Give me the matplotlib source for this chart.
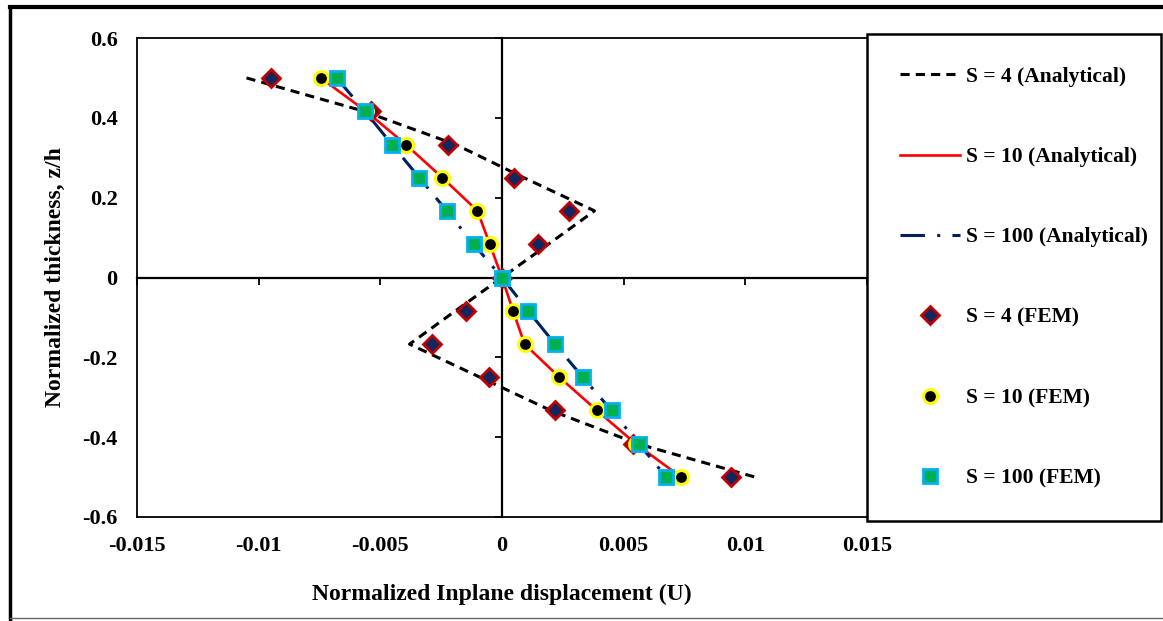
import matplotlib
matplotlib.use("Agg")
import matplotlib.pyplot as plt
from matplotlib.lines import Line2D

# normalized thickness positions
z = [0.5, 0.417, 0.333, 0.25, 0.167, 0.083, 0.0, -0.083, -0.167, -0.25, -0.333, -0.417, -0.5]

# analytical curves
u_s4_an = [-0.0105, -0.0057, -0.0019, 0.0009, 0.0038, 0.0019, 0.0, -0.0019, -0.0038, -0.0009, 0.0020, 0.0056, 0.0104]
u_s10_an = [-0.00745, -0.0056, -0.00395, -0.00245, -0.00101, -0.0005, 0.0, 0.00045, 0.00093, 0.00236, 0.0039, 0.0055, 0.00736]
u_s100_an = [-0.0068, -0.00564, -0.00452, -0.0034, -0.00227, -0.00116, 0.0, 0.00107, 0.00218, 0.00332, 0.0045, 0.00563, 0.00675]

# FEM results
u_s4_fem = [-0.0095, -0.0054, -0.00223, 0.00049, 0.00277, 0.00148, 0.0, -0.0015, -0.00286, -0.00053, 0.00218, 0.0054, 0.0094]
u_s10_fem = [-0.00745, -0.0056, -0.00395, -0.00245, -0.00101, -0.0005, 0.0, 0.00045, 0.00093, 0.00236, 0.0039, 0.0055, 0.00736]
u_s100_fem = [-0.00677, -0.00564, -0.00452, -0.0034, -0.00227, -0.00116, 0.0, 0.00107, 0.00218, 0.00332, 0.0045, 0.00563, 0.00675]

xticks = [-0.015, -0.01, -0.005, 0, 0.005, 0.01, 0.015]
xticklabels = ["-0.015", "-0.01", "-0.005", "0", "0.005", "0.01", "0.015"]
yticks = [0.6, 0.4, 0.2, 0, -0.2, -0.4, -0.6]
yticklabels = ["0.6", "0.4", "0.2", "0", "-0.2", "-0.4", "-0.6"]

plt.rcParams['font.family'] = ['Liberation Serif', 'DejaVu Serif']
plt.rcParams['font.weight'] = 'bold'

W, H = 1163, 621
fig = plt.figure(figsize=(W / 100, H / 100), dpi=100)
ax = fig.add_axes([137 / W, 1 - 517 / H, (867 - 137) / W, (517 - 38) / H])

navy = '#12275f'
ax.plot(u_s4_an, z, color='black', lw=2.2, dashes=(3, 2), label='S = 4 (Analytical)', zorder=3)
ax.plot(u_s10_an, z, color='#ff0000', lw=1.9, label='S = 10 (Analytical)', zorder=3)
ax.plot(u_s100_an, z, color='#002060', lw=2.2, dashes=(8, 4, 1, 4), label='S = 100 (Analytical)', zorder=3)
ax.plot(u_s4_fem, z, ls='none', marker='D', ms=9.5, mfc=navy, mec='#c00000', mew=2,
        label='S = 4 (FEM)', zorder=4)
ax.plot(u_s10_fem, z, ls='none', marker='o', ms=10, mfc='black', mec='#ffff00', mew=2.2,
        label='S = 10 (FEM)', zorder=5)
ax.plot(u_s100_fem, z, ls='none', marker='s', ms=10, mfc='#00b050', mec='#00b0f0', mew=2,
        label='S = 100 (FEM)', zorder=6)

ax.set_xlim(-0.015, 0.015)
ax.set_ylim(-0.6, 0.6)
ax.set_xticks(xticks)
ax.set_xticklabels(xticklabels)
ax.set_yticks(yticks)
ax.set_yticklabels(yticklabels)
ax.tick_params(length=0, labelsize=16, pad=14)
for s in ['left', 'bottom', 'top']:
    ax.spines[s].set_linewidth(1.3)
ax.spines['right'].set_visible(False)

# axes crossing at zero with tick marks
secx = ax.secondary_xaxis(0.5)
secx.set_alignment('bottom')
secx.set_xticks(xticks)
secx.tick_params(direction='out', length=5, width=1.3, labelbottom=False, labeltop=False)
secx.spines['bottom'].set_linewidth(1.6)
secy = ax.secondary_yaxis(0.5)
secy.set_alignment('left')
secy.set_yticks(yticks)
secy.tick_params(direction='out', length=5, width=1.3, labelleft=False, labelright=False)
secy.spines['left'].set_linewidth(1.6)

ax.set_xlabel('Normalized Inplane displacement (U)', fontsize=17, fontweight='bold', labelpad=20)
ax.set_ylabel('Normalized thickness, z/h', fontsize=17, fontweight='bold', labelpad=12)

leg = ax.legend(loc='upper left',
                bbox_to_anchor=(867 / W, 1 - 521 / H, (1161 - 867) / W, (521 - 34) / H),
                bbox_transform=fig.transFigure, mode='expand', borderaxespad=0,
                fancybox=False, framealpha=1, edgecolor='black', numpoints=1,
                prop={'size': 15.5, 'weight': 'bold'}, labelspacing=2.80,
                borderpad=1.52, handlelength=2.8, handletextpad=0.3)
leg.get_frame().set_linewidth(1.8)

# outer border of the picture
fig.add_artist(Line2D([10 / W, 10 / W], [0, 1 - 7 / H], transform=fig.transFigure, color='black', lw=2.5))
fig.add_artist(Line2D([10 / W, 1], [1 - 7 / H, 1 - 7 / H], transform=fig.transFigure, color='black', lw=3))
fig.add_artist(Line2D([10 / W, 1], [1 - 618 / H, 1 - 618 / H], transform=fig.transFigure, color='#666666', lw=1))

fig.savefig('out.png', dpi=100)
